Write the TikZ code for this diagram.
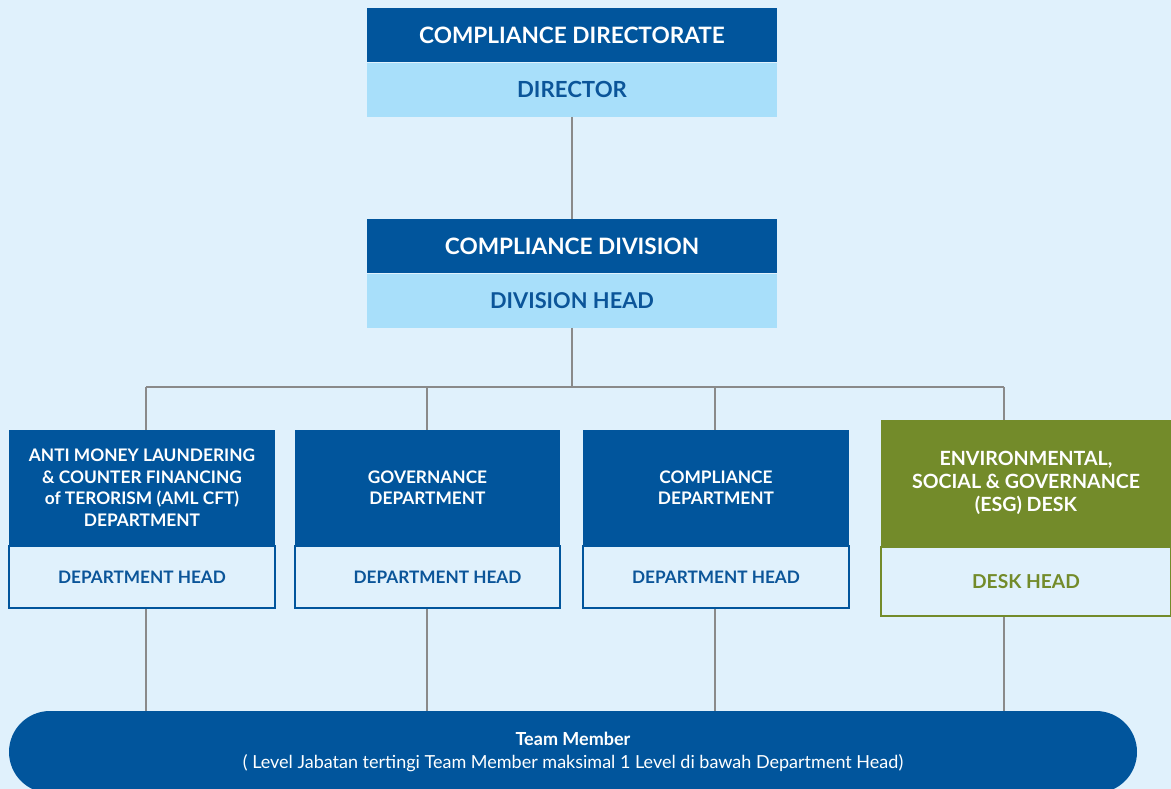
\documentclass[tikz,border=0pt]{standalone}
\usepackage{fontspec}
\setmainfont{Lato}
\begin{document}
\begin{tikzpicture}[x=1pt, y=-1pt,
    headbox/.style={fill=darkBlue, text=white, font=\bfseries\fontsize{22.6}{25}\selectfont,
        minimum width=410pt, minimum height=54pt, inner sep=0pt, anchor=north},
    rolebox/.style={fill=lightBlue, text=textBlue, font=\bfseries\fontsize{22.2}{25}\selectfont,
        minimum width=410pt, minimum height=54pt, inner sep=0pt, anchor=north},
    deptbox/.style={fill=darkBlue, text=white, font=\bfseries\fontsize{17.3}{21.5}\selectfont,
        align=center, minimum width=266pt, minimum height=115pt, inner sep=0pt, anchor=north},
    headrole/.style={fill=bgBlue, draw=darkBlue, line width=2pt, text=textBlue,
        font=\bfseries\fontsize{17.2}{20}\selectfont, minimum width=266pt, minimum height=62pt,
        inner sep=0pt, anchor=north},
    link/.style={draw=lineGrey, line width=2pt}]
    % Define colours
    \definecolor{bgBlue}{HTML}{E0F1FC}
    \definecolor{darkBlue}{HTML}{01559C}
    \definecolor{lightBlue}{HTML}{A8DFFA}
    \definecolor{textBlue}{HTML}{0B5599}
    \definecolor{esgGreen}{HTML}{738B2A}
    \definecolor{lineGrey}{HTML}{8A8A8A}

    % Page and background
    \useasboundingbox (0,0) rectangle (1171,789);
    \fill[bgBlue] (0,0) rectangle (1171,789);
    \clip (0,0) rectangle (1171,789);

    % Directorate
    \node[headbox] (dirTop) at (572,8) {COMPLIANCE DIRECTORATE};
    \node[rolebox] (dirRole) at (dirTop.south) {DIRECTOR};

    % Division
    \node[headbox] (divTop) at (572,219) {COMPLIANCE DIVISION};
    \node[rolebox, font=\bfseries\fontsize{21.8}{25}\selectfont] (divRole) at (divTop.south) {DIVISION HEAD};

    % Departments
    \node[deptbox] (aml) at (142,430) {ANTI MONEY LAUNDERING\\ \& COUNTER FINANCING\\ of TERORISM (AML CFT)\\ DEPARTMENT};
    \node[headrole] (amlHead) at (aml.south) {DEPARTMENT HEAD};
    \node[deptbox, minimum width=265pt] (gov) at (427.5,430) {GOVERNANCE\\ DEPARTMENT};
    \node[headrole, minimum width=265pt] (govHead) at (gov.south) {\hspace{20pt}DEPARTMENT HEAD};
    \node[deptbox] (comp) at (716,430) {COMPLIANCE\\ DEPARTMENT};
    \node[headrole] (compHead) at (comp.south) {DEPARTMENT HEAD};

    % ESG desk
    \node[deptbox, fill=esgGreen, font=\bfseries\fontsize{19.6}{23}\selectfont,
        minimum width=290pt, minimum height=126pt] (esg) at (1026,420)
        {ENVIRONMENTAL,\\ SOCIAL \& GOVERNANCE\\ (ESG) DESK};
    \node[headrole, draw=esgGreen, text=esgGreen, font=\bfseries\fontsize{19.2}{20}\selectfont,
        minimum width=290pt, minimum height=69pt] (esgHead) at (esg.south) {DESK HEAD};

    % Team member bar
    \node[fill=darkBlue, text=white, align=center, font=\fontsize{18}{23}\selectfont,
        minimum width=1128pt, minimum height=82pt, rounded corners=41pt, inner sep=0pt]
        (team) at (573,752) {\textbf{Team Member}\\ ( Level Jabatan tertingi Team Member maksimal 1 Level di bawah Department Head)};

    % Connectors
    \draw[link] (dirRole) -- (divTop);
    \coordinate (busA) at (146,387);
    \coordinate (busB) at (427,387);
    \coordinate (busC) at (715,387);
    \coordinate (busD) at (1004,387);
    \draw[link] (divRole.south) -- (divRole.south |- busA);
    \draw[link] (busA) -- (busD);
    \foreach \b/\d in {busA/aml, busB/gov, busC/comp, busD/esg} {
        \draw[link] (\b) -- (\b |- \d.north);
        \draw[link] (\b |- \d Head.south) -- (\b |- team.north);
    }
\end{tikzpicture}
\end{document}
